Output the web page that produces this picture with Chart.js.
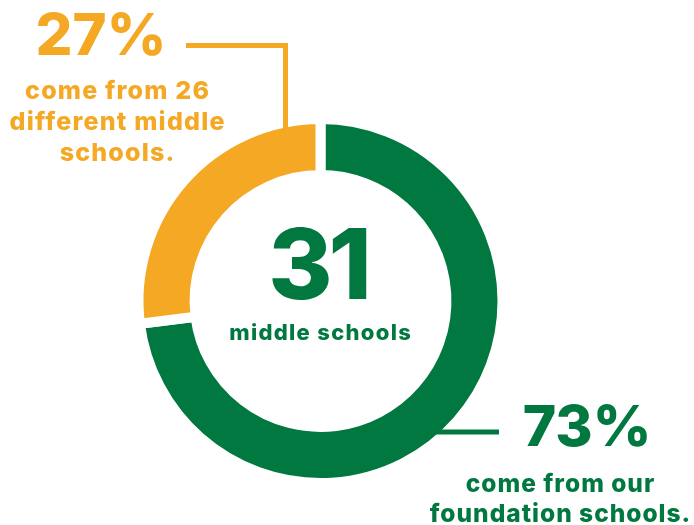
<!DOCTYPE html>
<html>
<head>
  <title>Middle schools</title>
  <script src="https://cdn.jsdelivr.net/npm/chart.js"></script>
  <style>
    html, body { margin: 0; padding: 0; background: #fff; }
    #wrap { position: relative; width: 694px; height: 525px; overflow: hidden; }
    canvas { position: absolute; left: 0; top: 0; }
    .lbl { position: absolute; white-space: nowrap; font-family: Inter, sans-serif; font-weight: 800; line-height: 1; transform: translateX(-50%); }
    .orange { color: #F4A823; }
    .green { color: #00783F; }
  </style>
</head>
<body>
  <div id="wrap">
    <canvas id="chart" width="694" height="525"></canvas>
  </div>

  <script>
    // values
    const categories = ['Foundation schools', 'Other middle schools'];
    const shares = [73, 27];
    const colors = ['#00783F', '#F4A823'];
    const totalSchools = 31;
    const otherSchools = 26;

    // leader lines, drawn from the ring outwards
    const leaderLines = {
      id: 'leaderLines',
      afterDatasetsDraw(chart) {
        const arc = chart.getDatasetMeta(0).data[0];
        const cx = arc.x, cy = arc.y;
        const r = arc.outerRadius - 5;
        const c = chart.ctx;
        c.save();
        c.lineWidth = 5;
        c.lineCap = 'butt';
        // orange: up from the ring then left
        const dx = -35;
        c.strokeStyle = colors[1];
        c.beginPath();
        c.moveTo(cx + dx, cy - Math.sqrt(r * r - dx * dx) + 2);
        c.lineTo(cx + dx, 45.5);
        c.lineTo(186, 45.5);
        c.stroke();
        // green: right from the ring
        const dy = 131;
        c.strokeStyle = colors[0];
        c.beginPath();
        c.moveTo(cx + Math.sqrt(r * r - dy * dy) - 4, cy + dy);
        c.lineTo(499, cy + dy);
        c.stroke();
        c.restore();
      }
    };

    new Chart(document.getElementById('chart'), {
      type: 'doughnut',
      data: {
        labels: categories,
        datasets: [{
          data: shares,
          backgroundColor: colors,
          borderColor: '#ffffff',
          borderWidth: 10,
          hoverOffset: 0
        }]
      },
      options: {
        responsive: false,
        animation: false,
        cutout: '69.2%',
        layout: { padding: { left: 133.5, right: 186.5, top: 114, bottom: 37 } },
        plugins: { legend: { display: false }, tooltip: { enabled: false } }
      },
      plugins: [leaderLines]
    });

    // labels placed by centre x and baseline y
    const wrap = document.getElementById('wrap');
    function label(text, cls, size, spacing, x, base) {
      const d = document.createElement('div');
      d.className = 'lbl ' + cls;
      d.style.fontSize = size + 'px';
      d.style.letterSpacing = spacing + 'px';
      d.style.left = (x + spacing / 2) + 'px';
      d.textContent = text;
      const m = document.createElement('span');
      m.style.cssText = 'display:inline-block;width:0;height:0;vertical-align:baseline;letter-spacing:0';
      d.appendChild(m);
      wrap.appendChild(d);
      d.style.top = (base - m.offsetTop) + 'px';
    }

    label(shares[1] + '%', 'orange', 58, 0, 101, 55);
    label('come from ' + otherSchools, 'orange', 25, 1.2, 117, 99);
    label('different middle', 'orange', 25, 1.2, 117, 130);
    label('schools.', 'orange', 25, 1.2, 117, 161);

    label(String(totalSchools), 'green', 98, -4, 320, 299);
    label('middle schools', 'green', 22, 1.3, 320, 340);

    label(shares[0] + '%', 'green', 57, 0, 587, 446);
    label('come from our', 'green', 24.5, 1, 560, 492);
    label('foundation schools.', 'green', 24.5, 1, 560, 522);
  </script>
</body>
</html>
